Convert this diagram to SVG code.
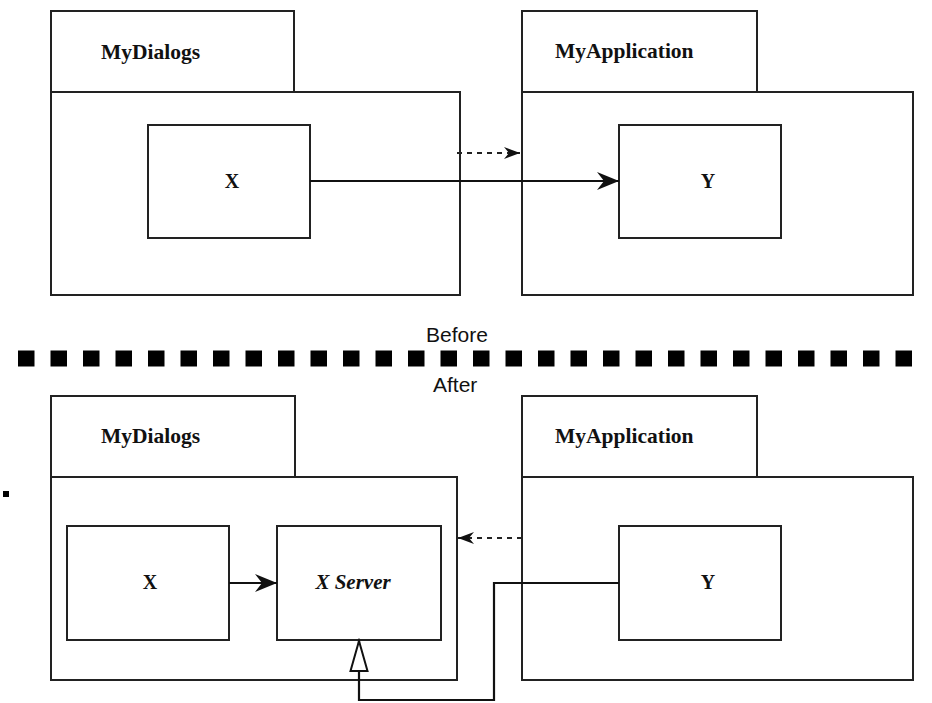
<svg xmlns="http://www.w3.org/2000/svg" width="932" height="703" viewBox="0 0 932 703">
  <style>
    .box { fill: #fff; stroke: #222; stroke-width: 2; }
    .lbl { font-family: "Liberation Serif", "Times New Roman", serif; font-weight: bold; font-size: 21.5px; fill: #111; }
    .cls { font-family: "Liberation Serif", "Times New Roman", serif; font-weight: bold; font-size: 20px; fill: #111; text-anchor: middle; }
    .ital { font-style: italic; font-size: 21px; }
    .cap { font-family: "Liberation Sans", Arial, sans-serif; font-size: 21px; fill: #111; }
    .wire { fill: none; stroke: #111; stroke-width: 2.2; }
    .dash { fill: none; stroke: #222; stroke-width: 2; stroke-dasharray: 5 5; }
  </style>
  <defs>
    <marker id="head" markerUnits="userSpaceOnUse" markerWidth="24" markerHeight="20" refX="22" refY="10" orient="auto">
      <path d="M0,1 L22,10 L0,19 L7,10 Z" fill="#111"/>
    </marker>
    <marker id="headSmall" markerUnits="userSpaceOnUse" markerWidth="18" markerHeight="14" refX="16" refY="7" orient="auto">
      <path d="M0,1 L16,7 L0,13 L5,7 Z" fill="#111"/>
    </marker>
    <marker id="triangle" markerUnits="userSpaceOnUse" markerWidth="34" markerHeight="22" refX="31" refY="10" orient="auto">
      <path d="M1,1.5 L31,10 L1,18.5 Z" fill="#fff" stroke="#111" stroke-width="2"/>
    </marker>
  </defs>

  <!-- Before -->
  <g id="before-mydialogs">
    <rect class="box" x="51" y="11" width="243" height="81"/>
    <rect class="box" x="51" y="92" width="409" height="203"/>
    <text class="lbl" x="101" y="59">MyDialogs</text>
  </g>
  <g id="before-x">
    <rect class="box" x="148" y="125" width="162" height="113"/>
    <text class="cls" x="232" y="188">X</text>
  </g>
  <g id="before-myapplication">
    <rect class="box" x="522" y="11" width="235" height="81"/>
    <rect class="box" x="522" y="92" width="391" height="203"/>
    <text class="lbl" x="555" y="58">MyApplication</text>
  </g>
  <g id="before-y">
    <rect class="box" x="619" y="125" width="162" height="113"/>
    <text class="cls" x="708" y="188">Y</text>
  </g>

  <!-- separator -->
  <g id="separator">
    <text class="cap" x="426" y="342">Before</text>
    <line x1="18" y1="358.5" x2="921" y2="358.5" stroke="#000" stroke-width="16" stroke-dasharray="16.5 16"/>
    <text class="cap" x="433" y="392">After</text>
    <rect x="3" y="491" width="6" height="6" fill="#000"/>
  </g>

  <!-- After -->
  <g id="after-mydialogs">
    <rect class="box" x="51" y="396" width="244" height="81"/>
    <rect class="box" x="51" y="477" width="406" height="203"/>
    <text class="lbl" x="101" y="443">MyDialogs</text>
  </g>
  <g id="after-x">
    <rect class="box" x="67" y="526" width="162" height="114"/>
    <text class="cls" x="150" y="589">X</text>
  </g>
  <g id="after-xserver">
    <rect class="box" x="277" y="526" width="164" height="114"/>
    <text class="cls ital" x="353" y="589">X Server</text>
  </g>
  <g id="after-myapplication">
    <rect class="box" x="522" y="396" width="235" height="81"/>
    <rect class="box" x="522" y="477" width="391" height="203"/>
    <text class="lbl" x="555" y="443">MyApplication</text>
  </g>
  <g id="after-y">
    <rect class="box" x="619" y="526" width="162" height="114"/>
    <text class="cls" x="708" y="589">Y</text>
  </g>

  <!-- connectors -->
  <g id="connectors">
    <line class="dash" x1="457" y1="153" x2="520" y2="153" marker-end="url(#headSmall)"/>
    <line class="wire" x1="310" y1="181" x2="619" y2="181" marker-end="url(#head)"/>
    <line class="dash" x1="522" y1="538" x2="458" y2="538" marker-end="url(#headSmall)"/>
    <line class="wire" x1="229" y1="583" x2="277" y2="583" marker-end="url(#head)"/>
    <polyline class="wire" points="619,583 494,583 494,700 359,700 359,641" marker-end="url(#triangle)"/>
  </g>
</svg>
